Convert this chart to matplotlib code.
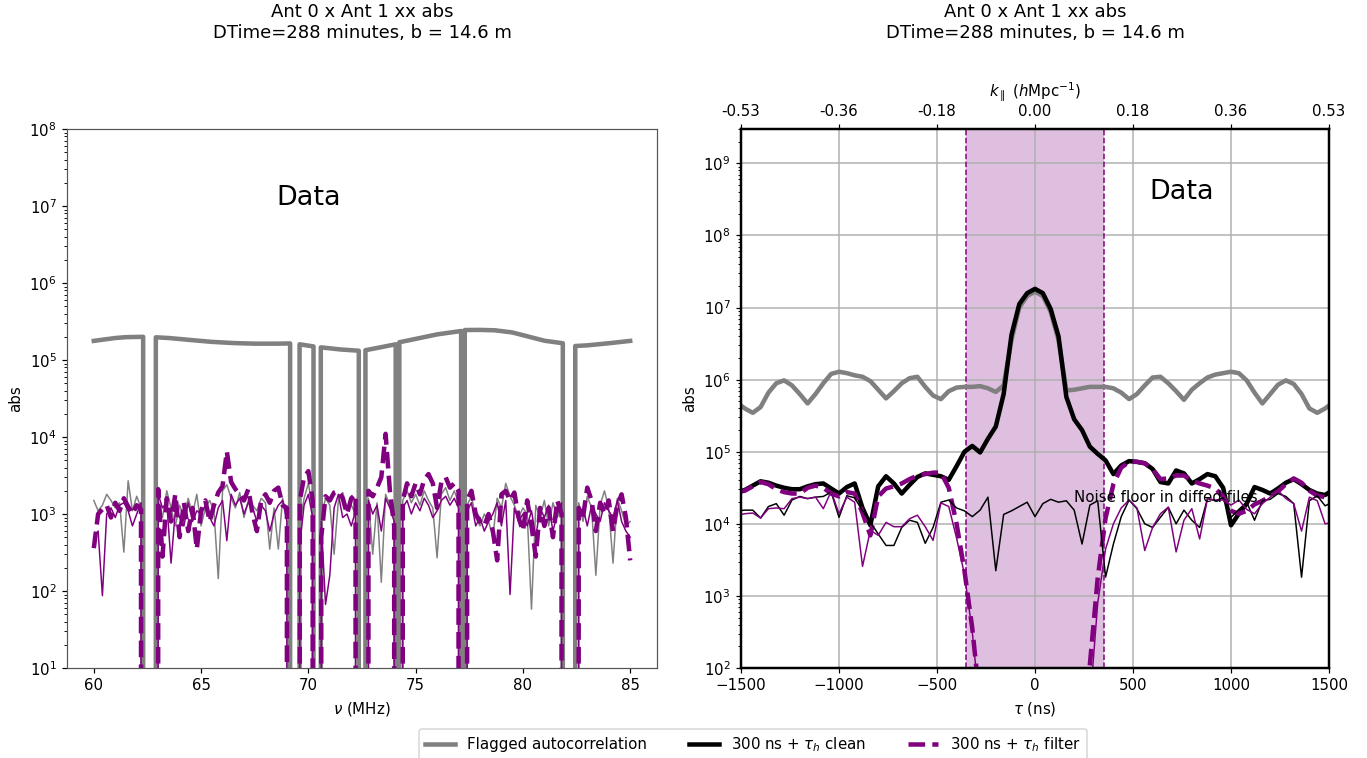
import matplotlib.pyplot as plt
import numpy as np

# flagged frequency ranges (MHz): data are zero inside
FLAGS = [(62.31, 62.88), (69.16, 69.58), (70.25, 70.57), (72.36, 72.65),
         (74.08, 74.23), (77.13, 77.28), (81.87, 82.43)]

# flagged autocorrelation, frequency space (knots just outside the flags)
auto_freq = [60.0, 60.5, 61.0, 61.5, 62.30, 62.89, 63.5, 64.5, 65.5, 66.5,
             67.5, 68.5, 69.15, 69.59, 70.24, 70.58, 71.5, 72.35, 72.66, 73.3,
             74.07, 74.24, 75.0, 76.0, 77.12, 77.29, 78.0, 78.7, 79.5, 80.3,
             81.0, 81.86, 82.44, 83.0, 84.0, 85.0]
auto_nu = [1.77e5, 1.85e5, 1.93e5, 1.98e5, 2.0e5, 1.97e5, 1.93e5, 1.82e5, 1.72e5, 1.66e5,
           1.63e5, 1.63e5, 1.64e5, 1.6e5, 1.5e5, 1.46e5, 1.37e5, 1.32e5, 1.34e5, 1.45e5,
           1.6e5, 1.7e5, 1.88e5, 2.15e5, 2.38e5, 2.45e5, 2.46e5, 2.43e5, 2.28e5, 2.0e5,
           1.78e5, 1.65e5, 1.52e5, 1.55e5, 1.65e5, 1.77e5]

# noise-level series on a 0.2 MHz grid, 60.0 ... 85.0 (one row = 2 MHz)
freq = np.round(np.arange(60.0, 85.01, 0.2), 1)
filter_nu = [
    360, 1000, 1150, 1300, 900, 1400, 1100, 1600, 1250, 1000,
    1300, 1150, 0, 0, 0, 2100, 280, 1600, 800, 1800,
    500, 1400, 600, 1200, 350, 1100, 1500, 800, 1300, 1900,
    2300, 6500, 2600, 2100, 1800, 1500, 2100, 1000, 600, 1500,
    1800, 1400, 2000, 2200, 1300, 1200, 0, 0, 1500, 3000,
    3600, 1500, 0, 500, 1700, 1500, 1900, 2000, 1600, 1000,
    1600, 1800, 0, 0, 2000, 1700, 2200, 3000, 11000, 2000,
    700, 0, 1500, 2500, 1700, 2500, 1800, 2800, 3300, 2500,
    1200, 2600, 3000, 2200, 2500, 2000, 0, 1500, 2000, 1000,
    800, 700, 1000, 600, 250, 1800, 2000, 1500, 1900, 900,
    600, 1500, 700, 280, 1200, 700, 1200, 500, 1500, 1000,
    0, 0, 0, 1200, 900, 2200, 1500, 600, 1400, 1000,
    1500, 600, 1300, 1800, 900, 250,
]
diffed_auto_nu = [
    1500, 1100, 1300, 1800, 1500, 1200, 1400, 320, 2700, 1100,
    1700, 1200, 0, 0, 0, 1500, 900, 2000, 1200, 700,
    1300, 900, 1600, 1000, 1800, 700, 1200, 1500, 1100, 145,
    2000, 2400, 1600, 1200, 1900, 900, 1500, 1300, 1100, 1600,
    1400, 350, 1200, 350, 1600, 900, 0, 0, 700, 1600,
    2500, 1200, 0, 900, 1600, 1300, 300, 1500, 1900, 1200,
    1300, 1000, 0, 0, 1600, 300, 1400, 130, 1800, 1300,
    1000, 0, 1500, 2000, 1400, 1800, 1300, 2000, 1500, 1200,
    270, 1800, 2200, 1500, 2000, 1400, 0, 1300, 1700, 900,
    700, 1000, 800, 500, 1600, 1200, 2500, 1700, 1300, 900,
    1200, 1000, 58, 1300, 900, 1500, 700, 1400, 900, 1200,
    0, 0, 0, 1400, 800, 1700, 1200, 160, 1300, 2000,
    1200, 230, 1600, 1100, 700, 800,
]
diffed_filter_nu = [
    500, 600, 87, 1000, 1200, 900, 1300, 1400, 1100, 700,
    1000, 1400, 0, 0, 0, 1800, 1200, 1400, 230, 1100,
    900, 700, 1400, 800, 1100, 1000, 1300, 900, 700, 1200,
    1500, 450, 1800, 1300, 1600, 1000, 1400, 1200, 800, 1300,
    1100, 600, 1000, 1300, 1500, 800, 0, 0, 400, 1300,
    1800, 900, 0, 800, 67, 160, 1200, 1800, 900, 1000,
    700, 1100, 0, 0, 1500, 1000, 1300, 600, 1600, 1200,
    800, 0, 1200, 1500, 1000, 1400, 1100, 1600, 1300, 900,
    1100, 1500, 1700, 1300, 1600, 1200, 0, 1100, 1400, 700,
    900, 600, 800, 1000, 1400, 700, 1500, 90, 1200, 800,
    1000, 700, 1100, 500, 1200, 900, 1300, 600, 1000, 1400,
    0, 0, 0, 900, 1200, 700, 1300, 1000, 800, 1400,
    1100, 900, 1500, 800, 600, 500,
]

# delay spectra, log10(abs), tau = -1520 ... 1520 ns every 40 ns (rows of 11)
tau = np.arange(-1520, 1521, 40)
auto_tau_log = [
    5.68, 5.60, 5.54, 5.62, 5.82, 5.95, 5.99, 5.92, 5.80, 5.67, 5.80,
    5.95, 6.08, 6.11, 6.09, 6.06, 6.04, 5.98, 5.86, 5.74, 5.84, 5.95,
    6.02, 6.04, 5.90, 5.78, 5.73, 5.84, 5.89, 5.90, 5.90, 5.91, 5.88,
    5.83, 5.92, 6.55, 7.00, 7.16, 7.22, 7.16, 6.94, 6.55, 5.85, 5.86,
    5.88, 5.90, 5.90, 5.90, 5.88, 5.82, 5.73, 5.80, 5.92, 6.03, 6.04,
    5.95, 5.84, 5.72, 5.86, 5.95, 6.03, 6.07, 6.09, 6.11, 6.09, 5.99,
    5.82, 5.67, 5.80, 5.93, 5.99, 5.94, 5.80, 5.60, 5.54, 5.60, 5.68,
]
clean_tau_log = [
    4.44, 4.47, 4.53, 4.59, 4.57, 4.53, 4.50, 4.48, 4.48, 4.52, 4.55,
    4.56, 4.49, 4.42, 4.51, 4.56, 4.22, 3.98, 4.52, 4.66, 4.56, 4.42,
    4.54, 4.65, 4.70, 4.68, 4.66, 4.61, 4.80, 5.00, 5.08, 4.99, 5.18,
    5.35, 5.80, 6.62, 7.05, 7.20, 7.26, 7.20, 6.98, 6.60, 5.76, 5.45,
    5.30, 5.07, 4.97, 4.88, 4.69, 4.81, 4.87, 4.86, 4.84, 4.76, 4.58,
    4.56, 4.74, 4.70, 4.56, 4.62, 4.69, 4.66, 4.50, 3.98, 4.14, 4.28,
    4.51, 4.47, 4.42, 4.49, 4.57, 4.62, 4.55, 4.47, 4.42, 4.40, 4.47,
]
filter_tau_log = [
    4.44, 4.46, 4.52, 4.58, 4.55, 4.48, 4.44, 4.42, 4.42, 4.50, 4.53,
    4.50, 4.42, 4.38, 4.44, 4.42, 4.15, 3.84, 4.38, 4.49, 4.52, 4.56,
    4.62, 4.67, 4.69, 4.71, 4.71, 4.50, 4.00, 3.35, 2.55, 1.50, 0.80,
    0.50, 0.50, 0.50, 0.50, 0.50, 0.50, 0.50, 0.50, 0.50, 0.50, 0.80,
    1.20, 2.05, 3.25, 4.08, 4.55, 4.78, 4.86, 4.86, 4.84, 4.76, 4.62,
    4.63, 4.67, 4.67, 4.60, 4.56, 4.53, 4.49, 4.38, 4.18, 4.14, 4.18,
    4.27, 4.32, 4.38, 4.45, 4.55, 4.63, 4.57, 4.46, 4.39, 4.37, 4.36,
]
diffed_clean_tau_log = [
    4.18, 4.19, 4.19, 4.08, 4.24, 4.28, 4.12, 4.33, 4.38, 4.35, 4.37,
    4.38, 4.44, 4.09, 4.39, 4.36, 4.18, 4.02, 3.86, 3.70, 3.70, 3.95,
    4.05, 4.02, 3.73, 3.95, 4.30, 4.33, 4.22, 4.18, 4.10, 4.19, 4.37,
    3.35, 4.13, 4.18, 4.24, 4.30, 4.10, 4.28, 4.34, 4.30, 4.32, 4.19,
    3.72, 4.26, 4.32, 3.26, 3.72, 4.10, 4.33, 4.21, 4.00, 3.95, 4.09,
    4.23, 4.00, 4.19, 4.05, 3.95, 4.35, 4.32, 4.36, 4.09, 4.20, 4.30,
    4.05, 4.32, 4.34, 4.42, 4.38, 4.28, 3.26, 4.32, 4.39, 4.25, 4.30,
]
diffed_filter_tau_log = [
    4.12, 4.14, 4.15, 4.08, 4.21, 4.22, 4.21, 4.35, 4.37, 4.35, 4.37,
    4.21, 4.45, 4.14, 4.37, 4.30, 3.41, 3.91, 3.84, 4.02, 3.96, 3.96,
    4.07, 4.12, 3.96, 3.77, 4.29, 4.24, 3.80, 3.30, 2.50, 1.40, 0.80,
    0.50, 0.50, 0.50, 0.50, 0.50, 0.50, 0.50, 0.50, 0.50, 0.50, 0.80,
    1.10, 1.50, 2.90, 3.65, 4.00, 4.22, 4.33, 4.22, 3.63, 3.95, 4.14,
    4.23, 3.61, 4.05, 4.21, 3.79, 4.35, 4.33, 4.33, 4.26, 4.33, 4.20,
    4.14, 4.28, 4.37, 4.46, 4.35, 4.28, 3.90, 4.37, 4.32, 4.00, 4.02,
]

horizon = 350  # ns, 300 ns + tau_h
k_tick_tau = [-1500, -1000, -500, 0, 500, 1000, 1500]
k_tick_labels = ["-0.53", "-0.36", "-0.18", "0.00", "0.18", "0.36", "0.53"]

title = "Ant 0 x Ant 1 xx abs\nDTime=288 minutes, b = 14.6 m"


def apply_flags(f, v):
    """Zero the flagged channels and add zero points at the flag edges."""
    f = np.asarray(f, dtype=float)
    v = np.asarray(v, dtype=float).copy()
    for lo, hi in FLAGS:
        v[(f > lo) & (f < hi)] = 0.0
    edges = np.array([e for pair in FLAGS for e in pair])
    f_all = np.concatenate([f, edges])
    v_all = np.concatenate([v, np.zeros(edges.size)])
    order = np.argsort(f_all, kind="stable")
    return f_all[order], v_all[order]


fig = plt.figure(figsize=(1367 / 108, 758 / 108), dpi=108)
ax1 = fig.add_axes([67 / 1367, 90 / 758, 590 / 1367, 539 / 758])
ax2 = fig.add_axes([741 / 1367, 90 / 758, 588 / 1367, 539 / 758])

# --- frequency space ---
f_a, v_a = apply_flags(auto_freq, auto_nu)
ax1.plot(f_a, v_a, color="gray", lw=3)
f_d, v_d = apply_flags(freq, diffed_auto_nu)
ax1.plot(f_d, v_d, color="gray", lw=1)
f_p, v_p = apply_flags(freq, diffed_filter_nu)
ax1.plot(f_p, v_p, color="purple", lw=1)
f_f, v_f = apply_flags(freq, filter_nu)
ax1.plot(f_f, v_f, color="purple", lw=3, ls="--")

ax1.set_yscale("log")
ax1.set_ylim(1e1, 1e8)
ax1.set_xlabel(r"$\nu$ (MHz)")
ax1.set_ylabel("abs")
ax1.text(0.41, 0.872, "Data", transform=ax1.transAxes, fontsize=18,
         ha="center", va="center")
for spine in ax1.spines.values():
    spine.set_color("#555555")

# --- delay space ---
ax2.axvspan(-horizon, horizon, color="purple", alpha=0.25, lw=0)
for x in (-horizon, horizon):
    ax2.axvline(x, color="purple", ls="--", lw=1)

h_auto, = ax2.plot(tau, 10 ** np.array(auto_tau_log), color="gray", lw=3,
                   label="Flagged autocorrelation")
h_clean, = ax2.plot(tau, 10 ** np.array(clean_tau_log), color="black", lw=3,
                    label=r"300 ns + $\tau_h$ clean")
h_filt, = ax2.plot(tau, 10 ** np.array(filter_tau_log), color="purple", lw=3,
                   ls="--", label=r"300 ns + $\tau_h$ filter")
ax2.plot(tau, 10 ** np.array(diffed_clean_tau_log), color="black", lw=1)
ax2.plot(tau, 10 ** np.array(diffed_filter_tau_log), color="purple", lw=1)

ax2.set_yscale("log")
ax2.set_xlim(-1500, 1500)
ax2.set_ylim(1e2, 3e9)
ax2.set_xlabel(r"$\tau$ (ns)")
ax2.set_ylabel("abs")
ax2.grid(True, color="#b0b0b0", lw=1)
ax2.text(0.75, 0.883, "Data", transform=ax2.transAxes, fontsize=18,
         ha="center", va="center")
ax2.text(200, 2e4, "Noise floor in diffed files", fontsize=10)
for spine in ax2.spines.values():
    spine.set_linewidth(1.5)

top = ax2.twiny()
top.set_xlim(ax2.get_xlim())
top.set_xticks(k_tick_tau)
top.set_xticklabels(k_tick_labels)
top.set_xlabel(r"$k_\parallel$ ($h$Mpc$^{-1}$)")
for spine in top.spines.values():
    spine.set_linewidth(1.5)

for ax in (ax1, ax2):
    pos = ax.get_position()
    fig.text((pos.x0 + pos.x1) / 2, 1 - 42 / 758, title, ha="center",
             va="bottom", fontsize=12, multialignment="center")

fig.legend(handles=[h_auto, h_clean, h_filt], loc="lower center", ncol=3,
           columnspacing=2.8, bbox_to_anchor=(0.551, -0.012))

fig.savefig("out.png", dpi=108)
